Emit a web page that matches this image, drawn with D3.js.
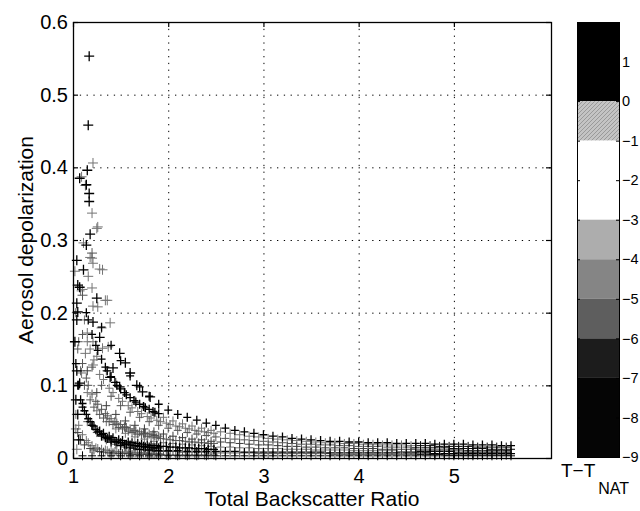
<!DOCTYPE html>
<html>
<head>
<meta charset="utf-8">
<script src="https://cdn.jsdelivr.net/npm/d3@7"></script>
<style>
  body { margin: 0; background: #fff; }
  text { font-family: "Liberation Sans", Arial, Helvetica, sans-serif; fill: #000; }
</style>
</head>
<body>
<div id="chart"></div>
<script>

// backscatter ratio grids (interleaved sampling columns)
var ratioA = [1.1,1.2,1.3,1.4,1.5,1.6,1.7,1.8,1.9,2.0,2.1,2.2,2.3,2.4,2.5,2.6,2.7,2.8,2.9,3.0,
    3.1,3.2,3.3,3.4,3.5,3.6,3.7,3.8,3.9,4.0,4.1,4.2,4.3,4.4,4.5,4.6,4.7,4.8,4.9,5.0,
    5.1,5.2,5.3,5.4,5.5,5.6];
var ratioB = [1.15,1.25,1.35,1.45,1.55,1.65,1.75,1.85,1.95,2.05,2.15,2.25,2.35,2.45,2.55,2.65,2.75,2.85,2.95,3.05,
    3.15,3.25,3.35,3.45,3.55,3.65,3.75,3.85,3.95,4.05,4.15,4.25,4.35,4.45,4.55,4.65,4.75,4.85,4.95,5.05,
    5.15,5.25,5.35,5.45,5.55];
var ratioC = [1.05,1.08,1.12,1.18,1.22,1.28,1.32,1.38,1.42,1.48,1.52,1.58,1.62,1.68,1.72,1.78,1.82,1.88,1.92,1.98,
    2.02,2.08,2.12,2.18,2.22,2.28,2.32,2.38,2.42,2.48];
var ratioD = [1.03,1.06,1.10,1.14,1.16,1.20,1.24,1.26,1.30,1.34,1.36,1.40,1.44,1.46,1.50,1.54,1.56,1.60,1.64,1.66,
    1.70,1.74,1.76,1.80,1.84,1.86,1.90];

// aerosol depolarization
var depolUpper = [null,null,0.180,0.155,0.134,0.113,0.098,0.085,0.074,0.066, 0.060,0.056,0.052,0.048,0.045,0.041,0.038,0.036,0.034,0.032,
    0.030,0.029,0.027,0.026,0.025,0.024,0.023,0.023,0.022,0.022, 0.021,0.021,0.021,0.020,0.020,0.020,0.020,0.019,0.019,0.019,
    0.019,0.018,0.018,0.018,0.017,0.017];
var depolMid1 = [0.170,0.125,0.100,0.085,0.072,0.063,0.056,0.050,0.045,0.041, 0.038,0.035,0.033,0.031,0.029,0.027,0.026,0.025,0.024,0.023,
    0.022,0.021,0.020,0.019,0.019,0.018,0.018,0.017,0.017,0.016, 0.016,0.016,0.015,0.015,0.015,0.014,0.014,0.014,0.014,0.013,
    0.013,0.013,0.013,0.012,0.012,0.012];
var depolLow1 = [0.070,0.045,0.030,0.022,0.017,0.014,0.012,0.011,0.010,0.010, 0.010,0.009,0.009,0.009,0.009,0.009,0.009,0.008,0.008,0.008,
    0.008,0.008,0.008,0.008,0.008,0.008,0.007,0.007,0.007,0.007, 0.007,0.007,0.007,0.007,0.007,0.007,0.007,0.006,0.006,0.006,
    0.006,0.006,0.006,0.006,0.006,0.006];
var depolBottom = [0.003,0.003,0.003,0.003,0.003,0.003,0.003,0.003,0.003,0.003, 0.003,0.003,0.003,0.003,0.003,0.003,0.003,0.003,0.003,0.003,
    0.003,0.003,0.003,0.003,0.003,0.003,0.003,0.003,0.003,0.003, 0.003,0.003,0.003,0.003,0.003,0.003,0.003,0.003,0.003,0.003,
    0.003,0.003,0.003,0.003,0.003,0.003];
var depolHigh2 = [0.160,0.140,0.120,0.104,0.090,0.079,0.070,0.062,0.056,0.051, 0.047,0.044,0.041,0.038,0.036,0.034,0.032,0.030,0.029,0.027,
    0.026,0.025,0.024,0.023,0.022,0.021,0.021,0.020,0.020,0.019, 0.019,0.018,0.018,0.018,0.017,0.017,0.017,0.016,0.016,0.016,
    0.016,0.015,0.015,0.015,0.015];
var depolMid2 = [0.120,0.090,0.072,0.060,0.051,0.045,0.040,0.036,0.033,0.030, 0.028,0.026,0.025,0.023,0.022,0.021,0.020,0.019,0.018,0.018,
    0.017,0.016,0.016,0.015,0.015,0.014,0.014,0.014,0.013,0.013, 0.013,0.012,0.012,0.012,0.012,0.011,0.011,0.011,0.011,0.011,
    0.010,0.010,0.010,0.010,0.010];
var depolLow2 = [0.090,0.065,0.050,0.040,0.034,0.029,0.026,0.023,0.021,0.020, 0.019,0.018,0.017,0.016,0.015,0.015,0.014,0.014,0.013,0.013,
    0.013,0.012,0.012,0.012,0.011,0.011,0.011,0.011,0.010,0.010, 0.010,0.010,0.010,0.009,0.009,0.009,0.009,0.009,0.009,0.008,
    0.008,0.008,0.008,0.008,0.008];
var depolLow3 = [0.050,0.035,0.025,0.019,0.015,0.013,0.011,0.010,0.009,0.009, 0.008,0.008,0.008,0.007,0.007,0.007,0.007,0.007,0.006,0.006,
    0.006,0.006,0.006,0.006,0.006,0.006,0.005,0.005,0.005,0.005, 0.005,0.005,0.005,0.005,0.005,0.005,0.005,0.005,0.004,0.004,
    0.004,0.004,0.004,0.004,0.004];
var depolShortA = [null,0.230,0.190,0.150,0.135,0.115,0.108,0.096,0.090,0.082, 0.078,0.072,0.069,0.064,0.061,0.057,0.055,0.052,0.050,0.048,
    0.046,0.044,0.043,0.041,0.040,0.038,0.037,0.036,0.035,0.034];
var depolShortB = [0.150,0.120,0.100,0.080,0.070,0.060,0.055,0.050,0.046,0.042, 0.040,0.037,0.035,0.033,0.032,0.030,0.029,0.028,0.027,0.026,
    0.025,0.024,0.024,0.023,0.022,0.022,0.021,0.021,0.020,0.020];
var depolShortC = [0.100,0.080,0.065,0.050,0.044,0.037,0.034,0.030,0.028,0.025, 0.024,0.022,0.021,0.020,0.019,0.018,0.017,0.017,0.016,0.016,
    0.015,0.015,0.014,0.014,0.014,0.013,0.013,0.013,0.012,0.012];
var depolShortD = [0.035,0.025,0.018,0.013,0.011,0.009,0.008,0.007,0.007,0.006, 0.006,0.006,0.005,0.005,0.005,0.005,0.005,0.005,0.005,0.004,
    0.004,0.004,0.004,0.004,0.004,0.004,0.004,0.004,0.004,0.004];
var depolNearA = [null,null,null,0.200,0.190,0.170,0.155,0.148,0.136,0.125, 0.120,0.112,0.104,0.100,0.095,0.090,0.087,0.083,0.079,0.077,
    0.074,0.071,0.069,0.067,0.064,0.063,0.061];
var depolNearB = [0.200,0.160,0.130,0.110,0.100,0.088,0.078,0.074,0.067,0.061, 0.058,0.054,0.050,0.048,0.046,0.043,0.042,0.040,0.038,0.037,
    0.036,0.034,0.034,0.033,0.032,0.031,0.030];
var depolNearC = [0.130,0.100,0.075,0.060,0.054,0.045,0.039,0.036,0.032,0.028, 0.027,0.025,0.023,0.022,0.021,0.019,0.019,0.018,0.017,0.017,
    0.016,0.016,0.015,0.015,0.014,0.014,0.014];
var depolNearD = [0.060,0.045,0.032,0.024,0.021,0.017,0.014,0.013,0.012,0.011, 0.010,0.010,0.009,0.009,0.008,0.008,0.008,0.008,0.007,0.007,
    0.007,0.007,0.007,0.006,0.006,0.006,0.006];

// T - T_NAT for each curve
var curveTemps = [1, -4.5, 1, -7.5, -3.5, -5.5, -3.5, -4.5, -3.5, -4.5, 1, -5.5, 1, -4.5, 1, -3.5];

// scattered points at low ratio: [ratio, depol, T-T_NAT]
var cloudPoints = [
    [1.17,0.553,1],[1.16,0.458,1],[1.21,0.406,-3.5],[1.15,0.396,1],[1.07,0.385,1],[1.13,0.375,-3.5],[1.17,0.364,1],
    [1.17,0.353,1],[1.20,0.337,-3.5],[1.26,0.318,-3.5],[1.18,0.308,1],[1.11,0.296,-3.5],[1.14,0.293,1],[1.20,0.282,-4.5],
    [1.20,0.275,-3.5],[1.04,0.272,1],[1.21,0.268,-3.5],[1.28,0.260,-3.5],[1.31,0.259,-3.5],[1.02,0.257,-3.5],[1.11,0.259,1],
    [1.16,0.250,-3.5],[1.05,0.238,1],[1.10,0.232,-3.5],[1.20,0.234,-3.5],[1.10,0.224,-4.5],[1.25,0.220,1],[1.36,0.217,-3.5],
    [1.04,0.213,1],[1.21,0.209,-3.5],[1.26,0.208,-3.5],[1.05,0.201,1],[1.04,0.190,1],[1.21,0.187,1],[1.30,0.179,-3.5],
    [1.39,0.186,-3.5],[1.15,0.172,-3.5],[1.21,0.160,-3.5],[1.28,0.166,1],[1.13,0.144,-3.5],[1.31,0.151,-3.5],[1.37,0.153,-3.5],
    [1.49,0.144,1],[1.55,0.131,1],[1.21,0.128,-3.5],[1.42,0.124,1],[1.60,0.117,1],[1.09,0.117,-3.5],[1.39,0.111,1],
    [1.67,0.100,1],[1.07,0.103,1],[1.49,0.098,1],[1.73,0.091,1],[1.81,0.084,1],[1.09,0.387,-3.5],[1.14,0.376,1],
    [1.25,0.316,-3.5],[1.18,0.276,-3.5],[1.07,0.235,1],[1.34,0.217,-3.5],[1.02,0.160,1],[1.04,0.120,1],[1.03,0.080,1],
    [1.05,0.060,1],[1.03,0.040,-3.5],[1.06,0.025,1],[1.04,0.012,-3.5]
];

var xTicks = [1, 2, 3, 4, 5];
var yTicks = [0, 0.1, 0.2, 0.3, 0.4, 0.5, 0.6];
var barTicks = [-9, -8, -7, -6, -5, -4, -3, -2, -1, 0, 1];
// colour bar bands (upper edge, lower edge, shade)
var bandTop = [2, 0, -1, -3, -4, -5, -6, -7];
var bandBottom = [0, -1, -3, -4, -5, -6, -7, -9];
var bandShades = ['#000000', '#b4b4b4', '#ffffff', '#adadad', '#858585', '#5e5e5e', '#1c1c1c', '#050505'];
// the printed markers come out darker than the bar
var markerShades = ['#000000', '#666666', '#ffffff', '#747474', '#555555', '#3c3c3c', '#111111', '#000000'];
var coldRatio = 4.6;
var coldTemp = -8;

var curves = [depolUpper, depolMid1, depolLow1, depolBottom, depolHigh2, depolMid2, depolLow2, depolLow3,
    depolShortA, depolShortB, depolShortC, depolShortD, depolNearA, depolNearB, depolNearC, depolNearD];
var curveGrid = [ratioA, ratioA, ratioA, ratioA, ratioB, ratioB, ratioB, ratioB,
    ratioC, ratioC, ratioC, ratioC, ratioD, ratioD, ratioD, ratioD];

var width = 640, height = 511;
var plot = {left: 73, right: 551, top: 22, bottom: 458};
var bar = {left: 577, right: 619, top: 22, bottom: 457};

var svg = d3.select('#chart').append('svg')
    .attr('width', width)
    .attr('height', height);

var x = d3.scaleLinear().domain([1, 6.02]).range([plot.left, plot.right]);
var y = d3.scaleLinear().domain([0, 0.6]).range([plot.bottom, plot.top]);
var yBar = d3.scaleLinear().domain([-9, 2]).range([bar.bottom, bar.top]);

// shade for a T-T_NAT value, following the colour bar bands
var shade = d3.scaleThreshold()
    .domain(bandBottom.slice(0, 7).reverse())
    .range(markerShades.slice().reverse());

// grid
var grid = svg.append('g').attr('stroke', '#000').attr('stroke-width', 1).attr('stroke-dasharray', '1.3,5.5');
grid.selectAll('.gx').data(xTicks.slice(1)).enter().append('line')
    .attr('x1', d => x(d) + 0.5).attr('x2', d => x(d) + 0.5)
    .attr('y1', plot.top).attr('y2', plot.bottom);
grid.selectAll('.gy').data(yTicks.slice(1, -1)).enter().append('line')
    .attr('y1', d => y(d) + 0.5).attr('y2', d => y(d) + 0.5)
    .attr('x1', plot.left).attr('x2', plot.right);

// build point list
var points = [];
curves.forEach(function (vals, ci) {
    vals.forEach(function (v, i) {
        if (v === null) return;
        var r = curveGrid[ci][i];
        points.push({r: r, d: v, t: r >= coldRatio ? coldTemp : curveTemps[ci], bold: curveTemps[ci] > 0});
    });
});
cloudPoints.forEach(function (p) {
    points.push({r: p[0], d: p[1], t: p[2], bold: p[2] > 0, big: true});
});
// lighter points first so the dark ones sit on top
points.sort((a, b) => d3.descending(shade(a.t), shade(b.t)));

svg.append('g').selectAll('path')
    .data(points)
    .enter()
    .append('path')
    .attr('transform', d => 'translate(' + x(d.r) + ',' + y(d.d) + ')')
    .attr('d', d => d.big ? 'M-5,0H5M0,-5V5' : 'M-4,0H4M0,-4.5V4.5')
    .attr('fill', 'none')
    .attr('stroke', d => shade(d.t))
    .attr('stroke-width', d => d.bold ? 1.3 : 1);

// frame
svg.append('rect')
    .attr('x', plot.left + 0.5).attr('y', plot.top + 0.5)
    .attr('width', plot.right - plot.left).attr('height', plot.bottom - plot.top)
    .attr('fill', 'none').attr('stroke', '#000').attr('stroke-width', 1.3);

// axes
var xAxis = svg.append('g')
    .attr('transform', 'translate(0,' + plot.bottom + ')')
    .call(d3.axisBottom(x).tickValues(xTicks).tickSize(-5).tickPadding(11).tickFormat(d3.format('d')));
var xAxisTop = svg.append('g')
    .attr('transform', 'translate(0,' + plot.top + ')')
    .call(d3.axisTop(x).tickValues(xTicks).tickSize(-5).tickFormat(''));
var yAxis = svg.append('g')
    .attr('transform', 'translate(' + plot.left + ',0)')
    .call(d3.axisLeft(y).tickValues(yTicks).tickSize(-5).tickPadding(5).tickFormat(d3.format('~g')));
var yAxisRight = svg.append('g')
    .attr('transform', 'translate(' + plot.right + ',0)')
    .call(d3.axisRight(y).tickValues(yTicks).tickSize(-5).tickFormat(''));

[xAxis, xAxisTop, yAxis, yAxisRight].forEach(function (a) {
    a.select('.domain').remove();
    a.selectAll('line').attr('stroke', '#000').attr('stroke-width', 1.2);
    a.selectAll('text').style('font-size', '20px').attr('font-family', null);
});

svg.append('text')
    .attr('x', (plot.left + plot.right) / 2)
    .attr('y', 506)
    .attr('text-anchor', 'middle')
    .style('font-size', '21px')
    .text('Total Backscatter Ratio');

svg.append('text')
    .attr('transform', 'translate(33,' + (plot.top + plot.bottom) / 2 + ') rotate(-90)')
    .attr('text-anchor', 'middle')
    .style('font-size', '21px')
    .text('Aerosol depolarization');

// colour bar
var defs = svg.append('defs');
var hatch = defs.append('pattern')
    .attr('id', 'hatch').attr('patternUnits', 'userSpaceOnUse')
    .attr('width', 4).attr('height', 4);
hatch.append('rect').attr('width', 4).attr('height', 4).attr('fill', '#c4c4c4');
hatch.append('path').attr('d', 'M0,4L4,0M-1,1L1,-1M3,5L5,3').attr('stroke', '#9a9a9a').attr('stroke-width', 1);

svg.append('g').selectAll('rect')
    .data(bandTop)
    .enter()
    .append('rect')
    .attr('x', bar.left)
    .attr('width', bar.right - bar.left)
    .attr('y', d => yBar(d))
    .attr('height', (d, i) => yBar(bandBottom[i]) - yBar(d))
    .attr('fill', (d, i) => i === 1 ? 'url(#hatch)' : bandShades[i]);

svg.append('rect')
    .attr('x', bar.left + 0.5).attr('y', bar.top + 0.5)
    .attr('width', bar.right - bar.left).attr('height', bar.bottom - bar.top)
    .attr('fill', 'none').attr('stroke', '#000').attr('stroke-width', 1);

var barAxis = svg.append('g')
    .attr('transform', 'translate(' + bar.right + ',0)')
    .call(d3.axisRight(yBar).tickValues(barTicks).tickSize(-3).tickPadding(3).tickFormat(d3.format('d')));
barAxis.select('.domain').remove();
barAxis.selectAll('text').style('font-size', '14.5px').attr('font-family', null);
barAxis.selectAll('line').attr('stroke', '#000');
var barAxisLeft = svg.append('g')
    .attr('transform', 'translate(' + bar.left + ',0)')
    .call(d3.axisLeft(yBar).tickValues(barTicks).tickSize(-3).tickFormat(''));
barAxisLeft.select('.domain').remove();
barAxisLeft.selectAll('line').attr('stroke', '#000');

var tLabel = svg.append('text')
    .attr('x', 561)
    .attr('y', 477)
    .style('font-size', '19px');
tLabel.append('tspan').text('T\u2212T');
tLabel.append('tspan').attr('dx', 3).attr('dy', 17).style('font-size', '16px').text('NAT');

</script>
</body>
</html>
